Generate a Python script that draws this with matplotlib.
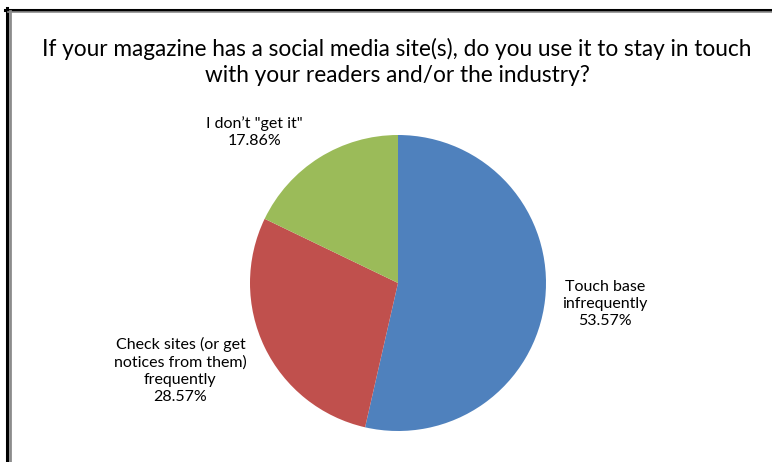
import matplotlib.pyplot as plt
from matplotlib.lines import Line2D

plt.rcParams['font.family'] = ['Lato', 'DejaVu Sans']

# survey answers (share of respondents, %)
answers = ['Touch base\ninfrequently',
           'Check sites (or get\nnotices from them)\nfrequently',
           'I don\u2019t "get it"']
shares = [53.57, 28.57, 17.86]
colors = ['#4F81BD', '#C0504D', '#9BBB59']

W, H = 772, 462
fig = plt.figure(figsize=(W / 100, H / 100), dpi=100)

# pie axes, circle centre (398, 283) px from top-left, radius 148 px
cx, cy, r = 398, 283, 148
ax = fig.add_axes([(cx - r) / W, (H - cy - r) / H, 2 * r / W, 2 * r / H])
ax.pie(shares, colors=colors, startangle=90, counterclock=False,
       wedgeprops=dict(linewidth=0))
ax.set_xlim(-1, 1)
ax.set_ylim(-1, 1)
ax.set_aspect('equal')

# data labels
label_pos = [(1.40, -0.14), (-1.47, -0.59), (-0.97, 1.02)]
for name, v, (x, y) in zip(answers, shares, label_pos):
    ax.text(x, y, f'{name}\n{v:.2f}%', ha='center', va='center',
            fontsize=11.5, linespacing=1.28, color='#000000', clip_on=False)

fig.text(397 / W, 1 - 62 / H,
         'If your magazine has a social media site(s), do you use it to stay in touch\n'
         'with your readers and/or the industry?',
         ha='center', va='center', fontsize=16.3, linespacing=1.25)

# chart frame (left and top edges)
fig.add_artist(Line2D([6.5 / W, 6.5 / W], [0, 1 - 8 / H], color='black', lw=2.2))
fig.add_artist(Line2D([5 / W, 1], [1 - 9.5 / H, 1 - 9.5 / H], color='black', lw=2.2))
fig.add_artist(Line2D([9.5 / W, 9.5 / W], [0, 1 - 11 / H], color='#8c8c8c', lw=2.0))
fig.add_artist(Line2D([8 / W, 1], [1 - 12 / H, 1 - 12 / H], color='#8c8c8c', lw=1.2))

fig.savefig('out.png', dpi=100, facecolor='white')
